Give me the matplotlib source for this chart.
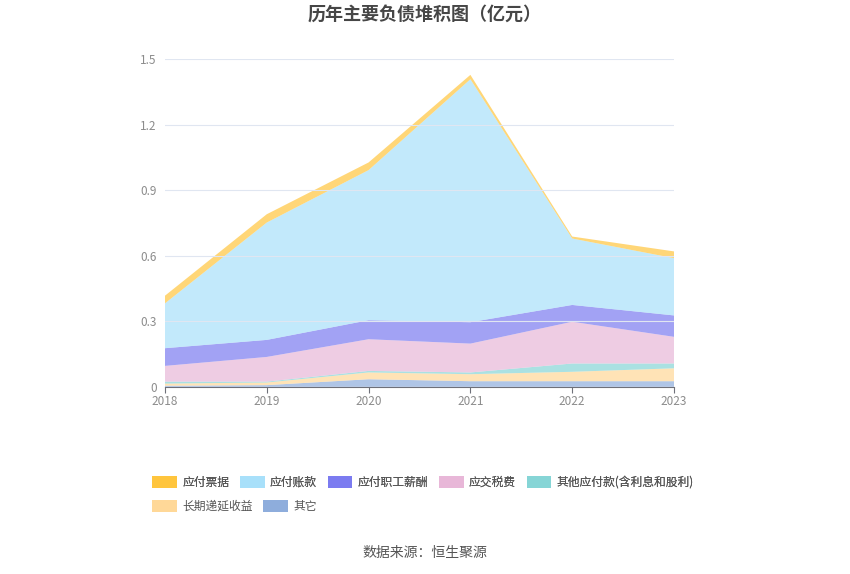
import matplotlib
matplotlib.use("Agg")
import matplotlib.pyplot as plt
from matplotlib.patches import Patch
import numpy as np

plt.rcParams['font.family'] = ['Noto Sans CJK SC', 'DejaVu Sans']

# ---------------- data (亿元) ----------------
years = [2018, 2019, 2020, 2021, 2022, 2023]
labels = ['应付票据', '应付账款', '应付职工薪酬', '应交税费',
          '其他应付款(含利息和股利)', '长期递延收益', '其它']
colors = ['#FFC53D', '#A8E0FA', '#7B7BF0', '#E8B7D8',
          '#86D5D6', '#FFD898', '#8EADDC']

notes_payable = [0.035, 0.038, 0.035, 0.020, 0.009, 0.031]
accounts_payable = [0.205, 0.537, 0.687, 1.112, 0.304, 0.262]
salary_payable = [0.081, 0.078, 0.087, 0.098, 0.077, 0.098]
tax_payable = [0.072, 0.113, 0.145, 0.132, 0.191, 0.122]
other_payables = [0.009, 0.004, 0.007, 0.008, 0.038, 0.022]
deferred_income = [0.010, 0.012, 0.031, 0.032, 0.043, 0.059]
others = [0.005, 0.008, 0.035, 0.026, 0.026, 0.026]

# stacking order: bottom first
stack = [others, deferred_income, other_payables, tax_payable,
         salary_payable, accounts_payable, notes_payable]
stack_colors = colors[::-1]

fig = plt.figure(figsize=(8.5, 5.74), dpi=100)
ax = fig.add_axes([0.194, 0.326, 0.599, 0.571])

ax.stackplot(years, *stack, colors=stack_colors, alpha=0.7, linewidth=0)

ax.set_xlim(2018, 2023)
ax.set_ylim(0, 1.5)
ax.set_yticks([0, 0.3, 0.6, 0.9, 1.2, 1.5])
ax.set_yticklabels(['0', '0.3', '0.6', '0.9', '1.2', '1.5'])
ax.set_xticks(years)
ax.grid(axis='y', color='#E0E6F1', linewidth=0.8)
ax.set_axisbelow(False)
for g in ax.get_ygridlines():
    g.set_zorder(0.5)
for s in ['top', 'right', 'left']:
    ax.spines[s].set_visible(False)
ax.spines['bottom'].set_color('#6E7079')
ax.tick_params(axis='y', length=0, labelsize=8.5, colors='#8C8C8C', pad=6)
ax.tick_params(axis='x', length=4, labelsize=8.5, labelcolor='#8C8C8C',
               color='#6E7079', pad=2)

fig.text(0.5, 0.976, '历年主要负债堆积图（亿元）', ha='center', va='center',
         fontsize=13, fontweight='bold', color='#464646')

handles = [Patch(facecolor=c, edgecolor='none') for c in colors]
leg_kw = dict(loc='center left', frameon=False, fontsize=8.5,
              handlelength=2.1, handleheight=1.2, handletextpad=0.45,
              columnspacing=0.9, borderaxespad=0, borderpad=0)
leg1 = fig.legend(handles[:5], labels[:5], ncol=5,
                  bbox_to_anchor=(0.179, 0.16), **leg_kw)
for t in leg1.get_texts():
    t.set_color('#555555')
leg2 = fig.legend(handles[5:], labels[5:], ncol=2,
                  bbox_to_anchor=(0.179, 0.118), **leg_kw)
for t in leg2.get_texts():
    t.set_color('#555555')
fig.add_artist(leg1)

fig.text(0.5, 0.036, '数据来源：恒生聚源', ha='center', va='center',
         fontsize=10, color='#555555')

fig.savefig('out.png', dpi=100)
